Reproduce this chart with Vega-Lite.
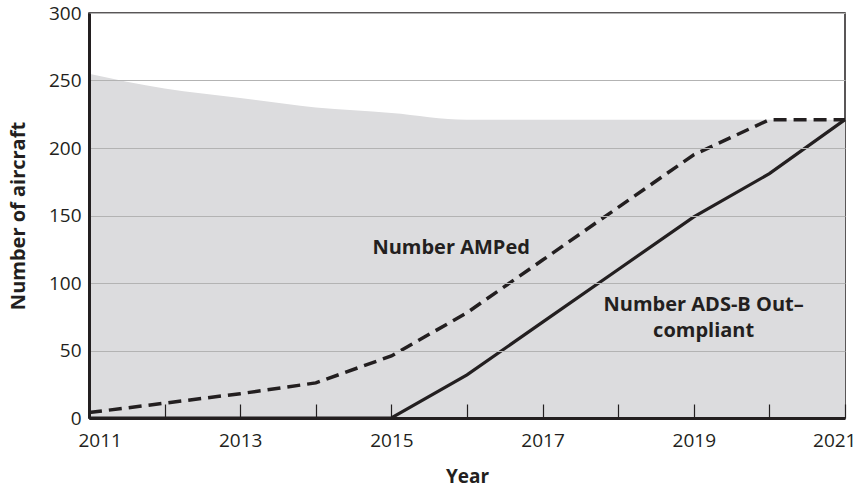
{
  "$schema": "https://vega.github.io/schema/vega-lite/v6.json",
  "width": 756,
  "height": 405,
  "autosize": {"type": "none"},
  "padding": {"left": 89, "top": 13, "right": 17, "bottom": 70},
  "background": "white",
  "config": {
    "font": "Open Sans",
    "view": {"stroke": "#231f20", "strokeWidth": 1.5},
    "axis": {"labelFont": "Open Sans", "titleFont": "Open Sans", "labelColor": "#231f20", "titleColor": "#231f20"}
  },
  "datasets": {
    "main": [
      {"year": 2011, "fleet": 255, "amped": 4, "ads": 0},
      {"year": 2012, "fleet": 244, "amped": 11, "ads": 0},
      {"year": 2013, "fleet": 237, "amped": 18, "ads": 0},
      {"year": 2014, "fleet": 230, "amped": 26, "ads": 0},
      {"year": 2015, "fleet": 226, "amped": 46, "ads": 0},
      {"year": 2016, "fleet": 221, "amped": 78, "ads": 32},
      {"year": 2017, "fleet": 221, "amped": 117, "ads": 71},
      {"year": 2018, "fleet": 221, "amped": 156, "ads": 110},
      {"year": 2019, "fleet": 221, "amped": 195, "ads": 149},
      {"year": 2020, "fleet": 221, "amped": 221, "ads": 181},
      {"year": 2021, "fleet": 221, "amped": 221, "ads": 221}
    ],
    "labels": [
      {"year": 2015.79, "value": 126, "label": "Number AMPed"},
      {"year": 2019.13, "value": 84, "label": "Number ADS-B Out–\ncompliant"}
    ]
  },
  "layer": [
    {
      "data": {"name": "main"},
      "mark": {"type": "area", "fill": "#dcdcde", "interpolate": "monotone"},
      "encoding": {
        "x": {
          "field": "year", "type": "quantitative",
          "scale": {"domain": [2011, 2021], "nice": false, "zero": false},
          "axis": {
            "values": [2011, 2012, 2013, 2014, 2015, 2016, 2017, 2018, 2019, 2020, 2021],
            "labelExpr": "datum.value % 2 == 1 ? datum.label : ''",
            "format": "d",
            "zindex": 1,
            "grid": false,
            "domainColor": "#231f20", "domainWidth": 3,
            "tickColor": "#231f20", "tickWidth": 1.2, "tickSize": -14,
            "labelFontSize": 19, "labelPadding": 27,
            "labelFlush": true, "labelFlushOffset": 11,
            "title": "Year", "titleFontSize": 19, "titleFontWeight": "bold", "titlePadding": 17
          }
        },
        "y": {
          "field": "fleet", "type": "quantitative",
          "scale": {"domain": [0, 300], "nice": false},
          "axis": {
            "values": [0, 50, 100, 150, 200, 250, 300],
            "zindex": 1,
            "grid": true, "gridColor": "#b3b3b3", "gridWidth": 1,
            "ticks": false,
            "domainColor": "#231f20", "domainWidth": 3,
            "labelFontSize": 19, "labelPadding": 8,
            "title": "Number of aircraft", "titleFontSize": 20, "titleFontWeight": "bold", "titlePadding": 20
          }
        }
      }
    },
    {
      "data": {"name": "main"},
      "mark": {"type": "line", "color": "#231f20", "strokeWidth": 3.5, "strokeDash": [13, 7]},
      "encoding": {
        "x": {"field": "year", "type": "quantitative"},
        "y": {"field": "amped", "type": "quantitative"}
      }
    },
    {
      "data": {"name": "main"},
      "mark": {"type": "line", "color": "#231f20", "strokeWidth": 3.2},
      "encoding": {
        "x": {"field": "year", "type": "quantitative"},
        "y": {"field": "ads", "type": "quantitative"}
      }
    },
    {
      "data": {"name": "labels"},
      "mark": {"type": "text", "font": "Open Sans", "fontWeight": "bold", "fontSize": 20, "color": "#231f20", "align": "center", "baseline": "middle", "lineBreak": "\n", "lineHeight": 26},
      "encoding": {
        "x": {"field": "year", "type": "quantitative"},
        "y": {"field": "value", "type": "quantitative"},
        "text": {"field": "label"}
      }
    }
  ]
}
